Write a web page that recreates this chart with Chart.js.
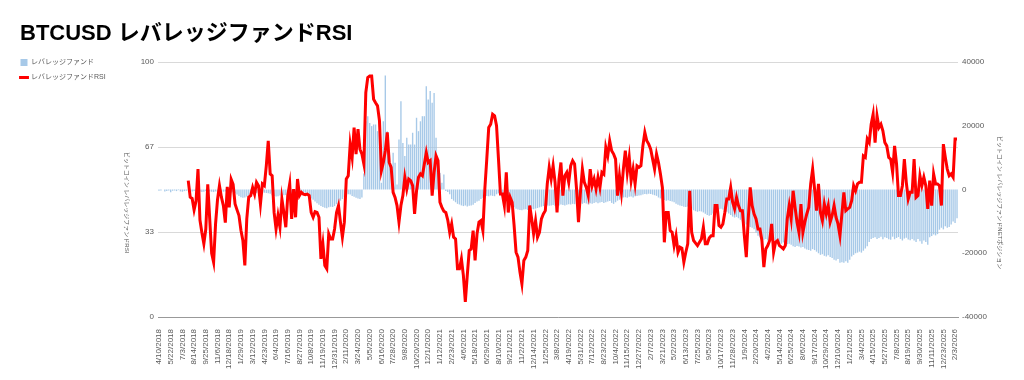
<!DOCTYPE html>
<html>
<head>
<meta charset="utf-8">
<script src="https://cdn.jsdelivr.net/npm/chart.js@4.4.1/dist/chart.umd.min.js"></script>
<style>
  body { margin: 0; background: #fff; }
  #wrap { position: relative; width: 1024px; height: 380px; }
  #wrap canvas { position: absolute; left: 0; top: 0; }
  #title { position: absolute; left: 20px; top: 22px; font: bold 22px "Liberation Sans", "Noto Sans CJK JP", sans-serif; line-height: 1; color: #000; white-space: nowrap; }
</style>
</head>
<body>
<div id="wrap">
  <canvas id="chart" width="1024" height="380"></canvas>
  <div id="title">BTCUSD レバレッジファンドRSI</div>
</div>
<script>
// weekly categories, 4/10/2018 .. 2/10/2026
const firstWeek = Date.UTC(2018, 3, 10);
const weekCount = 410;
const weeks = [];
for (let i = 0; i < weekCount; i++) {
  const d = new Date(firstWeek + i * 7 * 86400000);
  weeks.push((d.getUTCMonth() + 1) + '/' + d.getUTCDate() + '/' + d.getUTCFullYear());
}

const seriesNames = ['レバレッジファンド', 'レバレッジファンドRSI'];
const leftTitle = 'ビットコイン レバレッジファンドRSI';
const rightTitle = 'ビットコイン レバレッジファンドNETポジション';
const rsiTicks = [0, 100 / 3, 200 / 3, 100];

// net position (right axis)
const netPosition = [
  -400, -300, 0, -600, -500, -300, -900, -400, -300, -500, -200, -600, -700, -500, -400, -300,
  -500, -600, -500, -700, -400, -600, -800, -700, -500, -600,
  -600, -700, -800, -600, -700, -900, -800, -700, -600, -800, -900, -1000, -800, -1200, -1600,
  -2000, -2400, -2600, -2500, -2200, -1800, -1500,
  -1200, -1000, -1100, -900, -1300, -1200, -1000, -1100,
  -1200, -1300, -1800, -2000, -2200, -2100, -1900, -2000, -1800, -1700, -1600, -1800, -1500, -1400, -1300,
  -1200, -1000, -1100, -900, -1000, -1300, -1800,
  -2800, -3200, -3800, -4300, -4800, -5200, -5500, -5700, -5900, -5600, -5400, -5500, -5200, -4600,
  -4000, -3500, -3000, -2400, -1800, -1500,
  -1600, -2000, -2300, -2600, -2800, -3000, -2500,
  5000, 21400, 23000, 20900, 19900, 20400, 20400, 18300, 17200, 2100, 21400, 35800, 18300, 8400, 7300,
  11500, 8400, 1600, 15700, 27700, 14600, 10500, 16200, 14100, 14100, 17800, 14100, 22500, 18300, 21400,
  23000, 23000, 32400, 28200, 30900, 27200, 30300, 16200, 5200, 5200, 2100, 4700, -500,
  -800, -1500, -3000, -3500, -4000, -4500, -4700,
  -5000, -5200, -5000, -5300, -5100, -5000, -4800,
  -4200, -3800, -3500, -3000, -2600,
  -2200, -2000, -2100, -1900, -2000, -2100,
  -1500, -1200, -1600, -2000,
  -3000, -3600, -4200, -4800, -5200, -5600, -6000,
  -6300, -6400, -6500, -6300, -6200, -6400, -6300, -6100, -6200, -6000, -5800, -5600,
  -5400, -5200, -5300, -5000, -5100,
  -5000, -4900, -5100, -4800, -5000, -4700, -4900, -5000, -4800, -4600, -4700, -4500,
  -4600, -4400, -4500, -4300, -4500, -4200, -4400, -4600, -4300, -4500, -4200, -4000, -4300, -4100, -3900, -4200, -4000, -3800,
  -3600, -4200, -4500, -4000, -3500, -3200,
  -2800, -2500, -2400, -2600, -2300, -2200, -2500, -2100, -2000, -1900, -1800,
  -1600, -1400, -1500, -1300, -1400, -1600, -1800, -2000,
  -2500, -2800, -3100, -3300, -3500, -3400, -3600, -3800, -4000,
  -4500, -4800, -5000, -5200, -5400, -5500, -5300, -5600,
  -6000, -6500, -6800, -7000, -6800, -6900, -7200,
  -7600, -8000, -8200, -8000, -7500, -7000,
  -6500, -6200, -6000, -6300, -6600, -7000,
  -7500, -8000, -8500, -8800, -8600, -9000, -9500, -10000, -10500,
  -11000, -11500, -11800, -12000, -12500, -13500,
  -14500, -15000, -15500, -15800, -15500, -16000, -16200, -15800, -16500, -17000, -17200,
  -16800, -17000, -16600, -16900, -17200, -17000, -17300,
  -17800, -18000, -17700, -17900, -18200, -18000,
  -18500, -18800, -19000, -19200, -18700, -19000, -19500,
  -20000, -20500, -20300, -20800, -21000, -20600, -21200,
  -21500, -22000, -22300, -21800, -23000,
  -22800, -23000, -22500, -23000, -22000, -21000, -20500,
  -20000, -19800, -19500, -19800, -19200, -18500, -17800,
  -16500, -15500,
  -15200, -15000, -15500, -15200, -14800, -15600, -15000, -15200, -15600, -15800,
  -14800, -15600, -15200, -14900, -15500, -16000, -15400, -15100, -15700, -15900,
  -15500, -16000, -16500, -15500, -16200, -17000, -16000, -16500, -17300, -15000,
  -14600, -14100, -14400, -14000, -12600, -12000, -12500, -11500, -12000, -11800,
  -11000, -10000, -10500, -9000
];

// RSI (left axis)
const rsi = [
  null, null, null, null, null, null, null, null, null, null, null, null, null, null, null,
  53.5, 47, 46.5, 42, 45.5, 58, 38, 33, 28.7, 34.5, 52, 38.5, 25, 21.5, 36.5,
  46, 51.5, 47, 43.7, 37, 51, 43, 54, 52, 44.3, 42, 39.8, 34, 30, 20.2,
  38.5, 47, 47.6, 50.8, 48.2, 52.8, 51.5, 44.3, 52.2, 51.5, 59.3, 69.1, 56.1, 55.4, 41,
  34.5, 39.8, 35.2, 46.3, 41, 35.2, 47.6, 52.2, 38.5, 50.2, 39.1, 54.1, 47.6, 48.9, 48.2,
  48, 48.2, 47.6, 41, 39.1, 41.3, 41, 39.1, 22.8, 28.7, 20.2, 18.9, 32.6, 30.6, 30.6,
  34.5, 41, 43.7, 37.2, 31.3, 37.2, 54.1, 55.4, 67.8, 62.6, 74.3, 63.9, 73.7, 65.8, 63.9,
  60, 88, 93.9, 94.5, 94.5, 85.4, 84, 82.8, 77, 57.4, 60.6, 65.2, 72.4, 60.6, 58.7,
  48.9, 46.9, 43.7, 37.2, 43.7, 47.6, 54.8, 50.2, 54.1, 53.5, 51.5, 40.4, 49.5, 54.8, 56.1,
  55.4, 60, 64.5, 60.6, 61.3, 47.6, 56.7, 63.2, 61.3, 45, 43, 41.5, 41, 38, 33.2,
  36.5, 31.3, 30.6, 18.9, 18.9, 22.8, 16.3, 5.9, 16.3, 26.1, 26.7, 33.9, 22.2, 32.6, 37.2,
  37.8, 33.9, 50.2, 61.9, 74.3, 75.6, 79.5, 78.9, 75, 61.9, 48.2, 48.2, 43.7, 56.7, 41,
  46.9, 45, 35.9, 25.4, 23.5, 17.6, 13, 22.2, 23.5, 26.1, 43.7, 38.5, 32.6, 37.8, 31.3,
  33.2, 38.5, 40.4, 41.7, 52.2, 58.7, 54.1, 59.3, 52.8, 41, 54.1, 60.6, 47.6, 55.4, 56.7,
  52.8, 59.3, 61.3, 60, 50.2, 37.2, 48.9, 58, 52.8, 50.8, 47.6, 58, 51.5, 54.1, 50.2,
  54.8, 50.8, 56.7, 56, 66.5, 63.2, 69.1, 65.2, 63.9, 61.9, 47.6, 55.4, 48.9, 58, 65.2,
  56.7, 62.6, 53.5, 58, 52.2, 59.3, 58.7, 59.3, 67.1, 72.4, 69.1, 67.8, 65.8, 61.9, 58,
  63.9, 60.6, 56.1, 50.8, 29.3, 41, 41, 33.9, 33.2, 28, 31.9, 25.4, 27.4, 27, 21.5,
  25.4, 28.7, 49.5, 33.2, 30, 29, 28, 29.3, 30.6, 35.2, 28.7, 28.7, 31, 31.9, 31.9,
  43.7, 43.7, 35.9, 35.2, 36.5, 41, 46.3, 46.3, 50.8, 45, 42.4, 46.9, 43.7, 41.7, 41.7,
  31.9, 23.5, 38.5, 50.8, 43.7, 40.4, 38.5, 34.5, 34.5, 30, 19.6, 26.7, 28, 30, 36.5,
  25.4, 29.3, 30, 28, 27.4, 26.7, 28, 38.5, 43.7, 38.5, 49.5, 43, 37.2, 33.2, 44.3,
  33.2, 37.2, 40.4, 43, 52.2, 58, 50.2, 41.7, 52.2, 41, 37.8, 44.3, 40.4, 43.7, 37.2,
  39.8, 43.7, 39.1, 36.5, 31.9, 40.4, 48.9, 41.7, 42.4, 43, 45.6, 51.5, 49.5, 52.2, 52.8,
  52.8, 63.2, 62.6, 69.8, 68.4, 75.6, 79.5, 68.4, 78.9, 74.3, 75.6, 73, 68.4, 67.1, 62.6,
  61.9, 56.7, 67.1, 60, 47.6, 47.6, 51.5, 61.9, 52.8, 46.3, 48.9, 48.9, 61.9, 46.9, 47.6,
  55.4, 51.5, 54.8, 51.5, 42.4, 53.5, 43.7, 56.1, 52.2, 52.2, 51.5, 43.7, 67.8, 62.6, 58,
  55.4, 56.1, 54.8, 69.8, 69.8
];

const fontFamily = '"Liberation Sans", "Noto Sans CJK JP", sans-serif';
Chart.defaults.font.family = fontFamily;
Chart.defaults.color = '#595959';

// vertical axis titles, read top to bottom like the original
const axisTitles = {
  id: 'axisTitles',
  afterDraw(chart) {
    const ctx = chart.ctx;
    const mid = (chart.chartArea.top + chart.chartArea.bottom) / 2 + 13;
    ctx.save();
    ctx.font = '6px ' + fontFamily;
    ctx.fillStyle = '#595959';
    ctx.textAlign = 'center';
    ctx.textBaseline = 'middle';
    [[127, leftTitle], [1000, rightTitle]].forEach(([x, text]) => {
      ctx.save();
      ctx.translate(x, mid);
      ctx.rotate(Math.PI / 2);
      ctx.fillText(text, 0, 0);
      ctx.restore();
    });
    ctx.restore();
  }
};

// legend starts a bit above the plot top, like the original
const legendLift = {
  id: 'legendLift',
  afterLayout(chart) {
    chart.legend.top -= 11;
    chart.legend.bottom -= 11;
  }
};

new Chart(document.getElementById('chart'), {
  type: 'bar',
  data: {
    labels: weeks,
    datasets: [
      {
        type: 'bar',
        label: seriesNames[0],
        data: netPosition,
        yAxisID: 'y1',
        backgroundColor: 'rgba(157,195,230,0.9)',
        barPercentage: 0.7,
        categoryPercentage: 1,
        order: 2
      },
      {
        type: 'line',
        label: seriesNames[1],
        data: rsi,
        yAxisID: 'y',
        borderColor: '#ff0000',
        backgroundColor: '#ff0000',
        borderWidth: 3,
        pointRadius: 0,
        tension: 0,
        order: 1
      }
    ]
  },
  options: {
    responsive: false,
    animation: false,
    devicePixelRatio: 1,
    layout: { padding: { left: 12.5, top: 62, right: 0, bottom: 0 } },
    plugins: {
      legend: {
        position: 'left',
        align: 'start',
        labels: {
          usePointStyle: true,
          padding: 8,
          font: { size: 7 },
          color: '#595959',
          sort: (a, b) => a.datasetIndex - b.datasetIndex,
          generateLabels: chart => {
            const items = Chart.defaults.plugins.legend.labels.generateLabels(chart);
            items.forEach(it => {
              it.pointStyle = chart.data.datasets[it.datasetIndex].type === 'line' ? 'line' : 'rect';
            });
            return items;
          }
        }
      },
      tooltip: { enabled: false }
    },
    scales: {
      x: {
        grid: { display: false },
        border: { color: '#999999' },
        ticks: {
          autoSkip: false,
          minRotation: 90,
          maxRotation: 90,
          padding: 4,
          font: { size: 8 },
          color: '#595959',
          callback: (v, i) => (i % 6 === 0 ? weeks[i] : '')
        },
        afterFit: s => { s.height = 63; }
      },
      y: {
        position: 'left',
        min: 0,
        max: 100,
        afterBuildTicks: s => { s.ticks = rsiTicks.map(v => ({ value: v })); },
        ticks: { callback: v => Math.round(v), font: { size: 8 }, color: '#595959', padding: 4 },
        grid: { color: '#d9d9d9', drawTicks: false },
        border: { display: false },
        afterFit: s => { s.width = 158 - 12.5 - s.chart.legend.width; }
      },
      y1: {
        position: 'right',
        min: -40000,
        max: 40000,
        ticks: { stepSize: 20000, callback: v => String(v), font: { size: 8 }, color: '#595959', padding: 4 },
        grid: { display: false, drawTicks: false },
        border: { display: false },
        afterFit: s => { s.width = 66; }
      }
    }
  },
  plugins: [axisTitles, legendLift]
});
</script>
</body>
</html>
